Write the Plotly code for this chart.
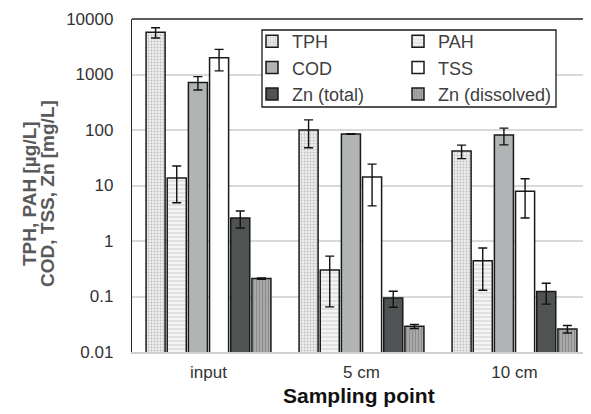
import plotly.graph_objects as go

categories = ["input", "5 cm", "10 cm"]
series_names = ["TPH", "PAH", "COD", "TSS", "Zn (total)", "Zn (dissolved)"]

tph = [5760, 100, 42]
tph_err = [1200, 52, 11.5]
pah = [13.7, 0.30, 0.44]
pah_err = [8.8, 0.235, 0.31]
cod = [720, 84.5, 81]
cod_err = [195, 1.2, 27]
tss = [2000, 14.3, 7.9]
tss_err = [840, 10, 5.3]
zn_total = [2.6, 0.094, 0.123]
zn_total_err = [0.88, 0.03, 0.05]
zn_diss = [0.21, 0.029, 0.026]
zn_diss_err = [0.005, 0.0025, 0.004]

y_tickvals = [0.01, 0.1, 1, 10, 100, 1000, 10000]
y_ticktext = ["0.01", "0.1", "1", "10", "100", "1000", "10000"]

values = [tph, pah, cod, tss, zn_total, zn_diss]
errors = [tph_err, pah_err, cod_err, tss_err, zn_total_err, zn_diss_err]
legend_column = ["legend", "legend2", "legend", "legend2", "legend", "legend2"]

styles = [
    dict(color="#e8e8e8", pattern=dict(shape=".", bgcolor="#eeeeee", fgcolor="#bdbdbd", size=3, solidity=0.3)),
    dict(color="#f2f2f2", pattern=dict(shape="-", bgcolor="#f4f4f4", fgcolor="#d4d4d4", size=4, solidity=0.3)),
    dict(color="#b1b4b4"),
    dict(color="#ffffff"),
    dict(color="#4f5354"),
    dict(color="#a3a3a3", pattern=dict(shape="|", bgcolor="#a8a8a8", fgcolor="#8c8c8c", size=3, solidity=0.35)),
]

FONT = "Liberation Sans, Arial, sans-serif"
OFF = 8  # default body margin of the page
W, H = 591 - OFF, 414 - OFF
L, R, T, B = 132 - OFF, 0, 19 - OFF, 62
PW, PH = W - L - R, H - T - B


def px_x(p):
    return (p - OFF - L) / PW


def px_y(p):
    return (H - B - (p - OFF)) / PH


fig = go.Figure()
for name, vals, errs, st, lg in zip(series_names, values, errors, styles, legend_column):
    marker = dict(color=st["color"], line=dict(color="#1a1a1a", width=1.5))
    if "pattern" in st:
        marker["pattern"] = dict(fillmode="replace", **st["pattern"])
    fig.add_trace(go.Bar(
        x=categories, y=vals, name=name, marker=marker, legend=lg,
        error_y=dict(type="data", array=errs, visible=True, color="#111111", thickness=1.4, width=4.5),
    ))

legend_common = dict(
    orientation="v", yanchor="top", xanchor="left",
    bgcolor="rgba(255,255,255,0)", borderwidth=0,
    font=dict(family=FONT, size=18, color="#404040"),
    traceorder="normal", tracegroupgap=0,
)

fig.update_layout(
    width=W, height=H,
    margin=dict(l=L, r=R, t=T, b=B, autoexpand=False),
    paper_bgcolor="white", plot_bgcolor="white",
    barmode="group", bargap=0.17, bargroupgap=0.1,
    font=dict(family=FONT, size=17, color="#333333"),
    showlegend=True,
    legend=dict(x=px_x(252), y=px_y(23), **legend_common),
    legend2=dict(x=px_x(398), y=px_y(23), **legend_common),
    xaxis=dict(
        showline=True, linecolor="#d0d0d0", linewidth=2,
        ticks="", ticklabelstandoff=4, automargin=False,
        tickfont=dict(family=FONT, size=17, color="#333333"),
    ),
    yaxis=dict(
        type="log", range=[-2, 4], automargin=False,
        tickvals=y_tickvals, ticktext=y_ticktext,
        showgrid=True, gridcolor="#d9d9d9", gridwidth=1.5,
        showline=True, linecolor="#262626", linewidth=1.3,
        ticks="", ticklabelstandoff=14,
        tickfont=dict(family=FONT, size=17, color="#333333"),
        zeroline=False,
    ),
    shapes=[
        dict(type="line", xref="paper", yref="paper", x0=0, x1=1, y0=1, y1=1,
             line=dict(color="#262626", width=1.3)),
        dict(type="rect", xref="paper", yref="paper", layer="above",
             x0=px_x(262), x1=px_x(556), y0=px_y(107), y1=px_y(30),
             fillcolor="white", line=dict(color="#1a1a1a", width=1.3)),
    ],
    annotations=[
        dict(
            text="<b>TPH, PAH [µg/L]</b>",
            xref="paper", yref="paper", x=px_x(29), y=px_y(194),
            xanchor="center", yanchor="middle", textangle=-90, showarrow=False,
            font=dict(family=FONT, size=19, color="#595959"),
        ),
        dict(
            text="<b>COD, TSS, Zn [mg/L]</b>",
            xref="paper", yref="paper", x=px_x(47), y=px_y(194),
            xanchor="center", yanchor="middle", textangle=-90, showarrow=False,
            font=dict(family=FONT, size=19, color="#595959"),
        ),
        dict(
            text="<b>Sampling point</b>",
            xref="paper", yref="paper", x=px_x(359), y=px_y(396),
            xanchor="center", yanchor="middle", showarrow=False,
            font=dict(family=FONT, size=21, color="#111111"),
        ),
    ],
)

fig.write_html("out.html")
